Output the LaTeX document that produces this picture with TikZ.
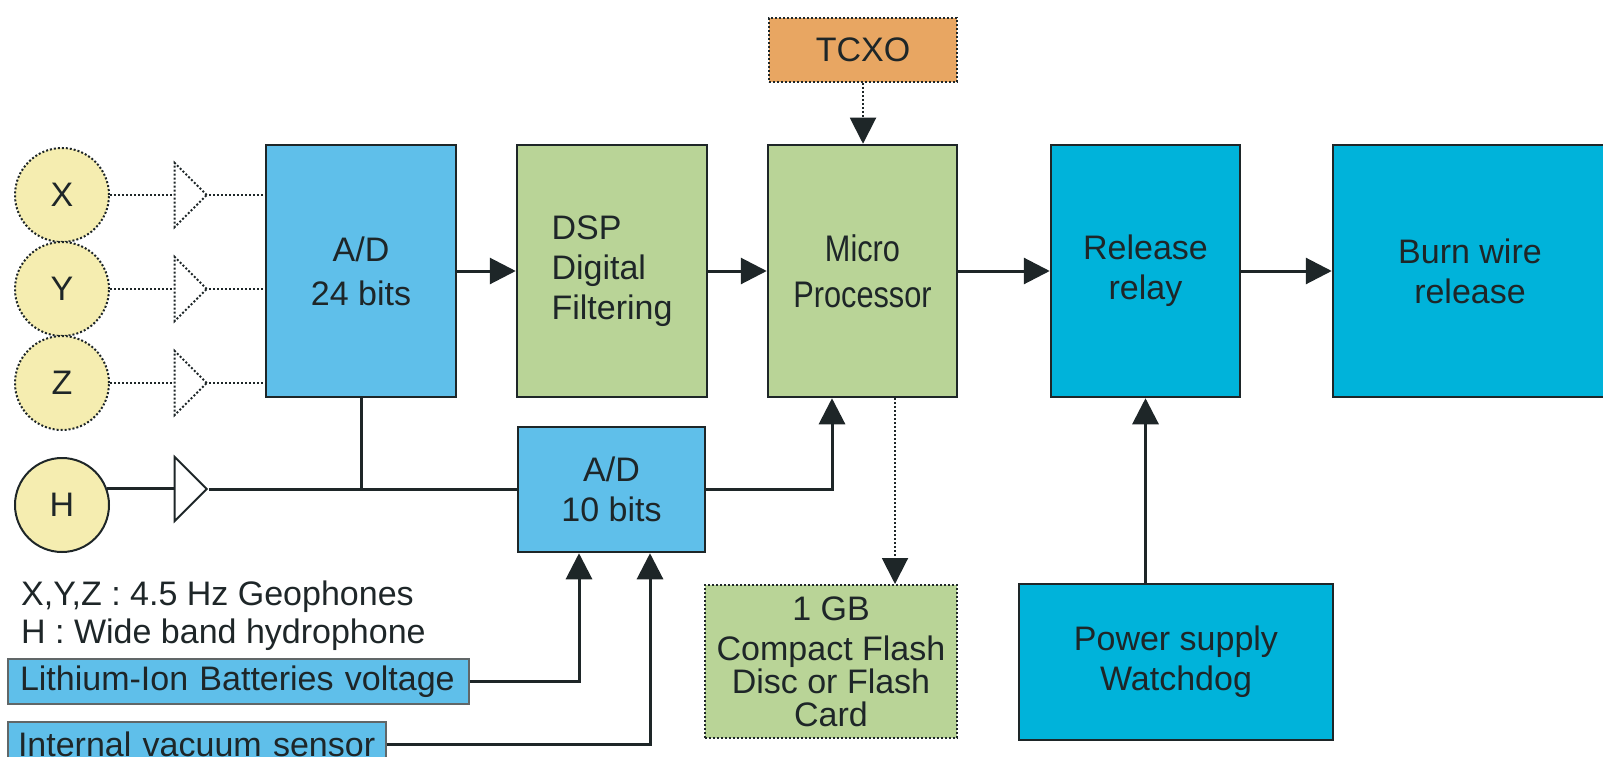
\documentclass[tikz,border=0pt]{standalone}
\usepackage{fontspec}
\setmainfont{Liberation Sans}
\newfontfamily\narrowsans[FakeStretch=0.83]{Liberation Sans}
\usetikzlibrary{arrows.meta,positioning,calc,shapes.geometric}
\definecolor{adBlue}{RGB}{95,191,234}
\definecolor{procGreen}{RGB}{185,212,151}
\definecolor{oscOrange}{RGB}{232,166,98}
\definecolor{relCyan}{RGB}{0,179,218}
\definecolor{sensYellow}{RGB}{245,237,176}
\definecolor{inkDark}{RGB}{30,38,40}
\tikzset{
  block/.style={rectangle, draw=inkDark, line width=2.5pt, inner sep=0pt, align=center,
    text=inkDark, font=\fontsize{34}{40}\selectfont},
  sensor/.style={circle, draw=inkDark, line width=2pt, fill=sensYellow, minimum size=94pt,
    inner sep=0pt, text=inkDark, font=\fontsize{34}{40}\selectfont},
  amp/.style={isosceles triangle, isosceles triangle stretches, shape border rotate=0,
    minimum width=64pt, minimum height=32pt, inner sep=0pt, draw=inkDark, line width=2pt, fill=white},
  dotline/.style={line width=2pt, dash pattern=on 2pt off 2pt},
  wire/.style={draw=inkDark, line width=3pt},
  arr/.style={wire, -{Triangle[length=26pt,width=26pt]}},
  tag/.style={rectangle, draw=inkDark!70, line width=1.5pt, fill=adBlue, align=left,
    inner xsep=12pt, inner ysep=0pt, minimum height=45pt, text=inkDark,
    font=\fontsize{34}{40}\selectfont},
  note/.style={anchor=base west, inner sep=0pt, text=inkDark, font=\fontsize{34}{40}\selectfont}
}

\begin{document}
\begin{tikzpicture}[x=1pt, y=-1pt]
  \useasboundingbox (0,0) rectangle (1603,757);

  \node[sensor, dotline] (X) at (62,195) {X};
  \node[sensor, dotline] (Y) at (62,289) {Y};
  \node[sensor, dotline] (Z) at (62,383) {Z};
  \node[sensor] (H) at (62,505) {H};
  \node[amp, dotline] (ampX) at (188,195) {};
  \node[amp, dotline] (ampY) at (188,289) {};
  \node[amp, dotline] (ampZ) at (188,383) {};
  \node[amp] (ampH) at (188,489) {};

  \node[block, fill=adBlue, minimum width=190pt, minimum height=252pt, font=\fontsize{34}{44}\selectfont]
    (ad24) at (361,271) {A/D\\24 bits};
  \node[block, fill=procGreen, minimum width=190pt, minimum height=252pt, align=left]
    (dsp) at (612,271) {DSP\\Digital\\Filtering};
  \node[block, fill=procGreen, minimum width=189pt, minimum height=252pt,
    font=\narrowsans\fontsize{37}{46}\selectfont] (micro) at (862.5,271) {Micro\\Processor};
  \node[block, fill=relCyan, minimum width=189pt, minimum height=252pt] (relay) at (1145.5,271) {Release\\relay};
  \node[block, fill=relCyan, minimum width=274pt, minimum height=252pt] (burn) at (1470,271) {Burn wire\\release};
  \node[block, fill=oscOrange, dotline, minimum width=188pt, minimum height=64pt] (tcxo) at (863,50) {TCXO};
  \node[block, fill=adBlue, minimum width=187pt, minimum height=125pt] (ad10) at (611.5,489.5) {A/D\\10 bits};
  \node[block, fill=procGreen, dotline, minimum width=252pt, minimum height=153pt,
    font=\fontsize{34}{33}\selectfont] (flash) at (831,661.5) {1 GB\\[7pt]Compact Flash\\ Disc or Flash\\Card};
  \node[block, fill=relCyan, minimum width=314pt, minimum height=156pt] (power) at (1176,662) {Power supply\\Watchdog};

  \node[note] (legXYZ) at (21,605) {X,Y,Z : 4.5 Hz Geophones};
  \node[note] (legH) at (21,643) {H : Wide band hydrophone};
  \node[tag, text width=437pt] (lith) at (238.5,681.5) {Lithium-Ion Batteries voltage};
  \node[tag, text width=358pt, inner xsep=10pt] (vac) at (197,744.5) {Internal vacuum sensor};

  \draw[wire, dotline] (X) -- (ampX);
  \draw[wire, dotline] (Y) -- (ampY);
  \draw[wire, dotline] (Z) -- (ampZ);
  \draw[wire, dotline] (ampX.east) -- (ampX.east -| ad24.west);
  \draw[wire, dotline] (ampY.east) -- (ampY.east -| ad24.west);
  \draw[wire, dotline] (ampZ.east) -- (ampZ.east -| ad24.west);
  \draw[wire] (H.20) -- (H.20 -| ampH.west);
  \draw[wire] (ampH.east) -- (ampH.east -| ad10.west);
  \draw[wire] (ad24.south) -- (ad24.south |- ampH.east);

  \draw[arr] (ad24) -- (dsp);
  \draw[arr] (dsp) -- (micro);
  \draw[arr] (micro) -- (relay);
  \draw[arr] (relay) -- (burn);
  \draw[arr, dotline] (tcxo.south) -- (tcxo.south |- micro.north);
  \draw[arr, dotline] ([xshift=32.5pt]micro.south) -- ([xshift=32.5pt]micro.south |- flash.north);
  \draw[arr] (ad10.east) -| ([xshift=-30.5pt]micro.south);
  \draw[arr] (lith.east) -| ([xshift=-32.5pt]ad10.south);
  \draw[arr] (vac.east) -| ([xshift=38.5pt]ad10.south);
  \draw[arr] (power.north -| relay.south) -- (relay.south);
\end{tikzpicture}
\end{document}
